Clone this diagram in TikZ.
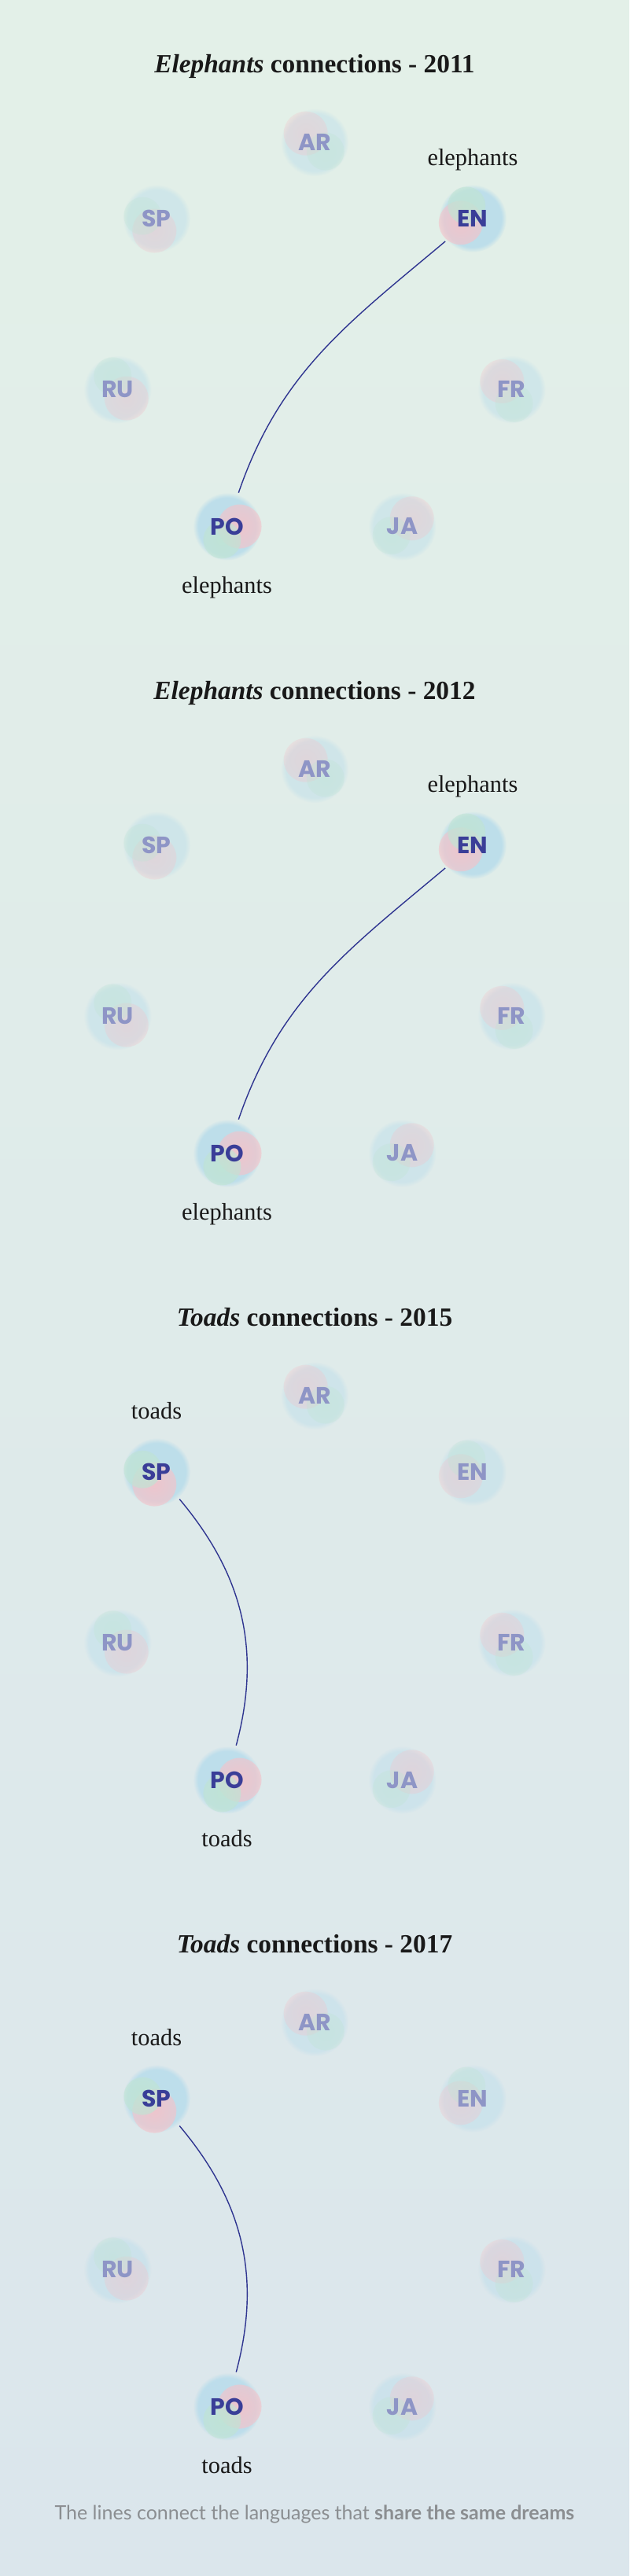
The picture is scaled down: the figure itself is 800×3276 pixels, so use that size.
\documentclass[tikz,border=0pt]{standalone}
\usepackage{fontspec}
\setmainfont{Liberation Serif}
\newfontfamily\langfont{Poppins}
\newfontfamily\notefont{Lato}
\usepackage{tikz}
\usetikzlibrary{calc, fadings, positioning}

\definecolor{bgtop}{HTML}{E3F0E8}
\definecolor{bgbottom}{HTML}{DBE6EC}
\definecolor{langactive}{HTML}{3A3E98}
\definecolor{langmuted}{HTML}{8E95C6}
\definecolor{linkblue}{HTML}{2F3590}
\definecolor{blobblue}{HTML}{BADDEB}
\definecolor{blobpink}{HTML}{F3C3CA}
\definecolor{blobgreen}{HTML}{C0E4D4}
\definecolor{notegray}{HTML}{8B8E91}

% soft round fading for the coloured spots
\pgfdeclareradialshading{softblobshade}{\pgfpointorigin}{color(0bp)=(white); color(22bp)=(white!75!black); color(50bp)=(black)}
\pgfdeclarefading{softblob}{\pgfuseshading{softblobshade}}

\begin{document}
\begin{tikzpicture}[
    x=0.5pt, y=0.5pt,
    titletext/.style={font=\fontsize{16.7}{20}\selectfont\bfseries, text=black!90, anchor=base},
    wordlabel/.style={font=\fontsize{15.2}{18}\selectfont, text=black!90, anchor=base},
    langnode/.style={circle, minimum size=45pt, inner sep=0pt, font=\langfont\bfseries\fontsize{15}{17}\selectfont},
    link/.style={linkblue, line width=0.7pt},
    blob/.style={path fading=softblob}
]

% ---------- Background ----------
\shade[top color=bgtop, bottom color=bgbottom] (0,0) rectangle (800,-3276);
\useasboundingbox (0,0) rectangle (800,-3276);

% ring radius and distance between panels
\def\ringR{257}
\def\ringgap{797}

% ---------- Panels ----------
\foreach \k/\word/\yr/\lbl/\la/\lb/\oa/\ia in {
    0/Elephants/2011/elephants/2/5/220/71,
    1/Elephants/2012/elephants/2/5/220/71,
    2/Toads/2015/toads/7/5/-50/75,
    3/Toads/2017/toads/7/5/-50/75} {

  \coordinate (C\k) at (400,-438-\ringgap*\k);
  \node[titletext] (T\k) at ($(C\k)+(0,346)$) {\textit{\word} connections - \yr};

  % languages round the ring (pink and green side of each bubble)
  \foreach \i/\lang/\ang/\pk/\gr in {1/AR/90/135/-40, 2/EN/38.57/200/115,
      3/FR/-12.86/140/-80, 4/JA/-64.29/40/-140, 5/PO/-115.71/0/-110,
      6/RU/-167.14/-45/110, 7/SP/141.43/-100/170} {
    \def\op{0.45}\def\tc{langmuted}
    \ifnum\i=\la\relax\def\op{0.9}\def\tc{langactive}\fi
    \ifnum\i=\lb\relax\def\op{0.9}\def\tc{langactive}\fi
    \coordinate (P) at ($(C\k)+(\ang:\ringR)$);
    \fill[blobblue, path fading=circle with fuzzy edge 15 percent, fill opacity=\op] (P) circle (43);
    \fill[blobpink, blob, fill opacity=\op] ($(P)+(\pk:16)$) circle (28);
    \fill[blobgreen, blob, fill opacity=\op] ($(P)+(\gr:18)$) circle (24);
    \node[langnode, text=\tc] (L\k-\i) at (P) {\lang};
  }

  % connection and its words
  \draw[link] (L\k-\la) to[out=\oa, in=\ia] (L\k-\lb);
  \node[wordlabel] (W\k-\la) at ($(L\k-\la)+(0,67)$) {\lbl};
  \node[wordlabel] (W\k-\lb) at ($(L\k-\lb)+(0,-85)$) {\lbl};
}

% ---------- Note ----------
\node[font=\notefont\fontsize{12.5}{15}\selectfont, text=notegray] (note) at (400,-3197)
    {The lines connect the languages that \textbf{share the same dreams}};

\end{tikzpicture}
\end{document}
